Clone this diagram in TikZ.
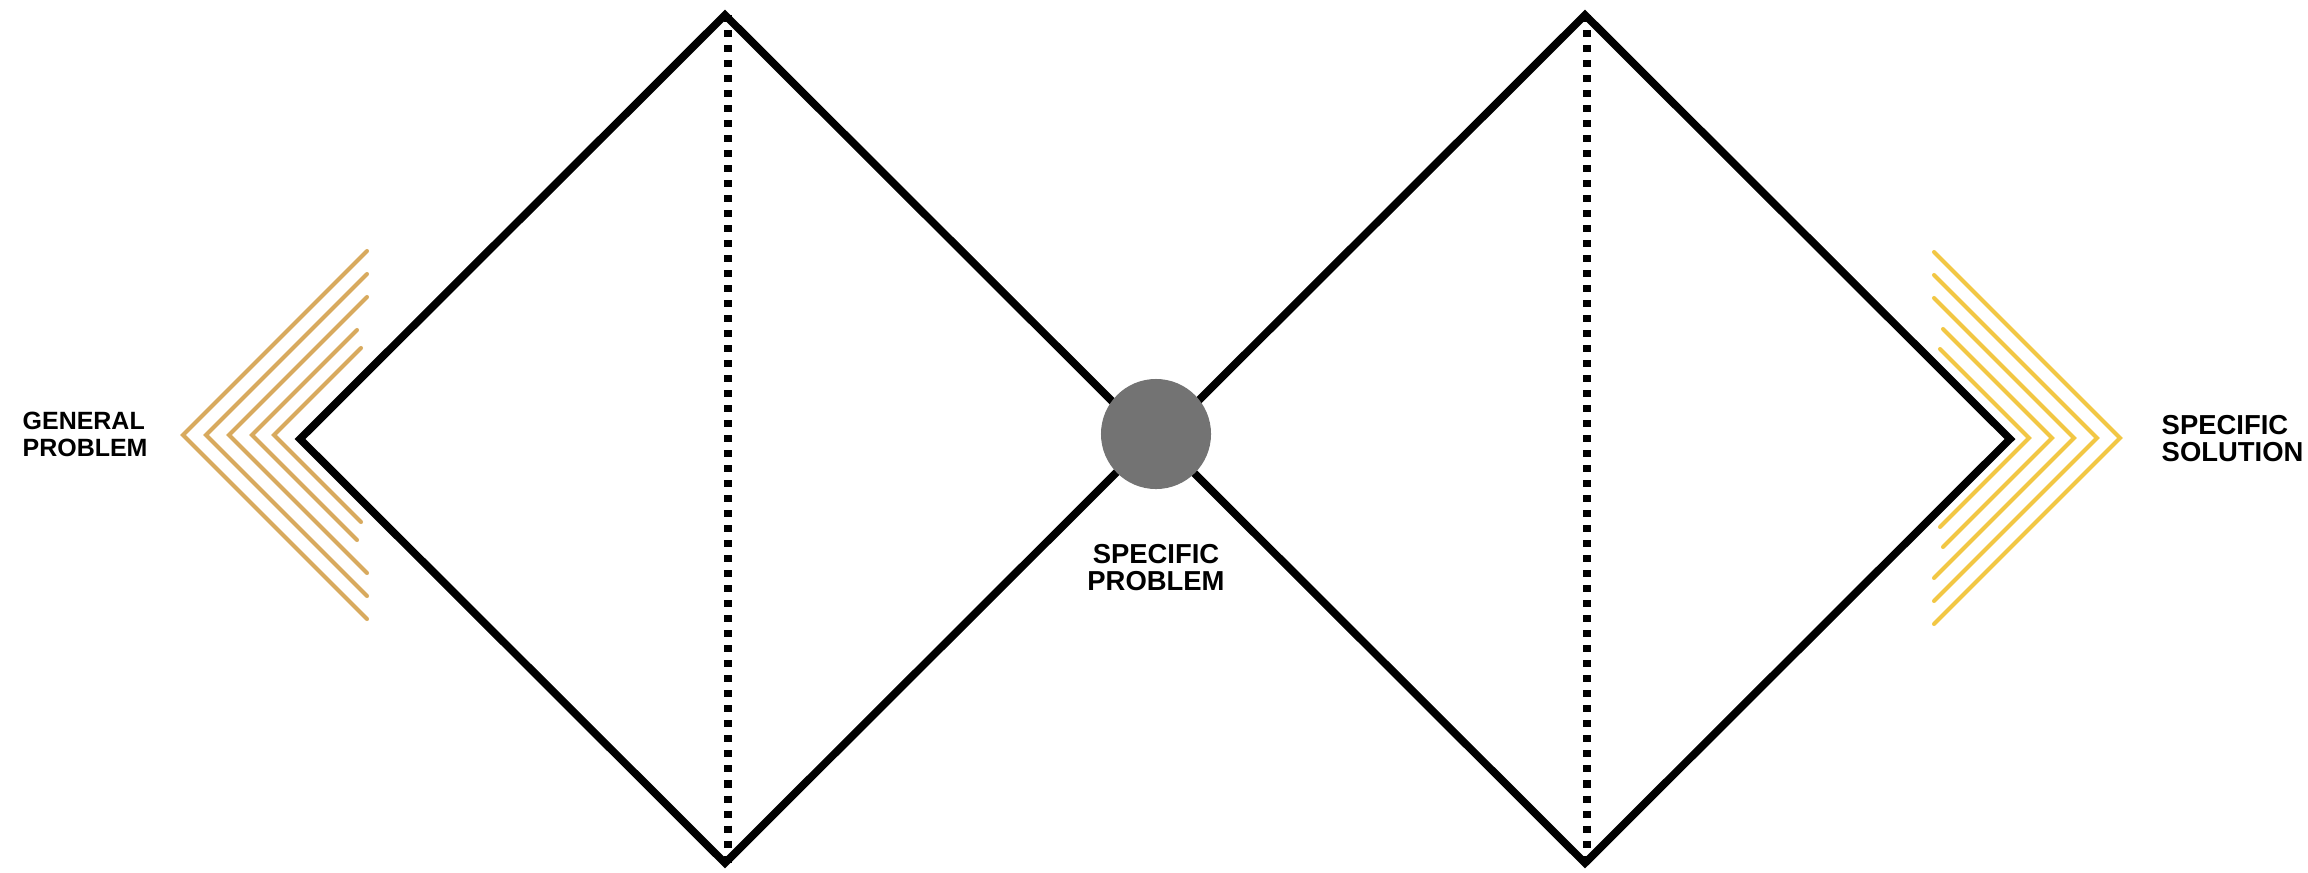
\documentclass[tikz,border=0pt]{standalone}
\usepackage{fontspec}
\setmainfont{Liberation Sans}
\usepackage{xcolor}
\usetikzlibrary{positioning}
\definecolor{chevtan}{HTML}{D8AA5E}
\definecolor{chevgold}{HTML}{F2C744}
\definecolor{dotgrey}{HTML}{737373}

\begin{document}
\begin{tikzpicture}[
        x=0.01cm, y=-0.01cm,
        font=\fontsize{7.1}{7.7}\selectfont\bfseries,
        edge/.style={line width=2.2pt, black, miter limit=10},
        axis/.style={line width=2.1pt, dash pattern=on 0.07cm off 0.08cm},
        chev/.style={line width=1.15pt, line cap=round},
        lbl/.style={inner sep=0pt, align=#1},
        big/.style={font=\fontsize{7.8}{7.7}\selectfont\bfseries},
        hub/.style={circle, fill=dotgrey, minimum size=1.1cm, inner sep=0pt}
    ]
        \useasboundingbox (0,0) rectangle (2308,872);
        \coordinate (gl) at (300,439);
        \coordinate (gt) at (725,15);
        \coordinate (gr) at (1150,439);
        \coordinate (gb) at (725,863);
        \coordinate (sl) at (1160,439);
        \coordinate (st) at (1585,15);
        \coordinate (sr) at (2010,439);
        \coordinate (sb) at (1585,863);
        \coordinate (gtop) at (728,15);
        \coordinate (gbot) at (728,870);
        \coordinate (stop) at (1587,15);
        \coordinate (sbot) at (1587,870);
        \foreach \vx/\ex in {183/367,206/367,229/367,252/357,274/361}
            \draw[chev, chevtan] ({\ex},{435-(\ex-\vx)}) -- ({\vx},435) -- ({\ex},{435+(\ex-\vx)});
        \foreach \vx/\ex in {2120/1934,2097/1934,2074/1934,2052/1943,2029/1940}
            \draw[chev, chevgold] ({\ex},{438-(\vx-\ex)}) -- ({\vx},438) -- ({\ex},{438+(\vx-\ex)});
        \draw[edge] (gl) -- (gt) -- (gr) -- (gb) -- cycle;
        \draw[edge] (sl) -- (st) -- (sr) -- (sb) -- cycle;
        \draw[axis] (gtop) -- (gbot);
        \draw[axis] (stop) -- (sbot);
        \node[hub] (pivot) at (1156,434) {};
        \node[lbl=left, anchor=west] (general) at (22,434) {GENERAL\\PROBLEM};
        \node[lbl=center, big, below=0.54cm of pivot] (specific) {SPECIFIC\\PROBLEM};
        \node[lbl=left, big, anchor=west] (solution) at (2161,439) {SPECIFIC\\SOLUTION};
    \end{tikzpicture}
\end{document}
